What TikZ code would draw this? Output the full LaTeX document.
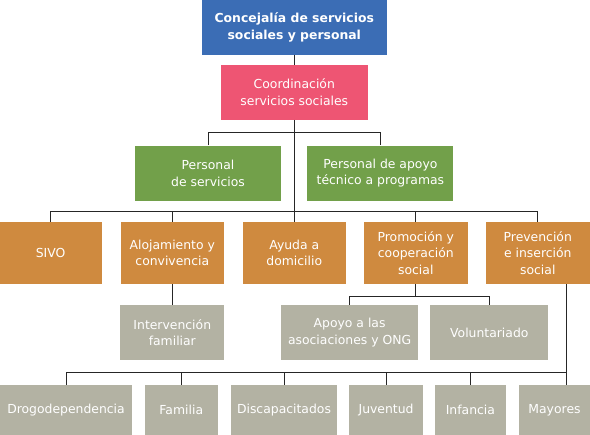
\documentclass[tikz,border=0pt]{standalone}
\usepackage{fontspec}
\setmainfont{DejaVu Sans}
\usetikzlibrary{positioning,calc}
\definecolor{azul}{HTML}{3B6DB5}
\definecolor{rosa}{HTML}{EE5573}
\definecolor{verde}{HTML}{72A04A}
\definecolor{naranja}{HTML}{CF8A3F}
\definecolor{gris}{HTML}{B3B2A3}
\begin{document}
\begin{tikzpicture}[x=1pt,y=1pt,on grid,node distance=60pt,
   box/.style={rectangle,inner sep=0pt,align=center,text=white,
      font=\fontsize{12.4}{16.7}\selectfont},
   topbox/.style={box,fill=azul,minimum width=184.7pt,minimum height=54.7pt,
      font=\fontsize{12.4}{16.7}\selectfont\bfseries},
   pinkbox/.style={box,fill=rosa,minimum width=146.7pt,minimum height=54.7pt},
   greenbox/.style={box,fill=verde,minimum width=146pt,minimum height=55pt},
   orangebox/.style={box,fill=naranja,minimum width=103.5pt,minimum height=61.7pt},
   graybox/.style={box,fill=gris,minimum height=55pt},
   leafbox/.style={box,fill=gris,minimum height=50pt},
   link/.style={line width=0.9pt,black!85}]
   \useasboundingbox (0,0) rectangle (590,-435);
   % top of the chart
   \node[topbox] (conc) at (294.3,-27.4) {Concejalía de servicios\\sociales y personal};
   \node[pinkbox] (coord) [below=65pt of conc] {Coordinación\\servicios sociales};
   \node[greenbox] (pserv) [below left=80.8pt and 86.3pt of coord] {Personal\\de servicios};
   \node[greenbox] (papoyo) [right=172.4pt of pserv] {Personal de apoyo\\técnico a programas};
   % services
   \node[orangebox] (ayuda) [below=160.6pt of coord] {Ayuda a\\domicilio};
   \node[orangebox] (aloj) [left=122pt of ayuda] {Alojamiento y\\convivencia};
   \node[orangebox] (sivo) [left=121.7pt of aloj] {SIVO};
   \node[orangebox] (promo) [right=121.5pt of ayuda] {Promoción y\\cooperación\\social};
   \node[orangebox] (prev) [right=122pt of promo] {Prevención\\e inserción\\social};
   \node[graybox,minimum width=104pt] (interv) [below=79.5pt of aloj] {Intervención\\familiar};
   \node[graybox,minimum width=136.6pt] (apoyo) [below left=79.5pt and 66.2pt of promo] {Apoyo a las\\asociaciones y ONG};
   \node[graybox,minimum width=117.7pt] (volunt) [right=139.7pt of apoyo] {Voluntariado};
   % groups
   \node[leafbox,minimum width=132pt] (drog) at (66,-410) {Drogodependencia};
   \node[leafbox,minimum width=72.5pt] (fam) [right=115.3pt of drog] {Familia};
   \node[leafbox,minimum width=106pt] (disc) [right=102.7pt of fam] {Discapacitados};
   \node[leafbox,minimum width=74pt] (juv) [right=102.1pt of disc] {Juventud};
   \node[leafbox,minimum width=70.7pt] (inf) [right=84.3pt of juv] {Infancia};
   \node[leafbox,minimum width=71pt] (may) [right=84.1pt of inf] {Mayores};
   % connectors
   \coordinate (bus1) at ($(coord.south)+(0,-12.4)$);
   \coordinate (bus2) at ($(coord.south)+(0,-91.6)$);
   \coordinate (bus3) at ($(promo.south)+(0,-12.3)$);
   \coordinate (bus4) at ($(prev.south east)+(-23,0)$);
   \coordinate (bus5) at ($(bus4)+(0,-88.3)$);
   \draw[link] (conc.south) -- (coord.north);
   \draw[link] (coord.south) -- (bus2);
   \draw[link] (pserv.north) |- (bus1) -| (papoyo.north);
   \foreach \n in {sivo,aloj,ayuda,promo,prev}
      \draw[link] (bus2) -| (\n.north);
   \draw[link] (aloj.south) -- (interv.north);
   \draw[link] (promo.south) -- (bus3);
   \draw[link] (apoyo.north) |- (bus3) -| (volunt.north);
   \draw[link] (bus4) -- (bus4 |- may.north);
   \foreach \n in {drog,fam,disc,juv,inf}
      \draw[link] (bus5) -| (\n.north);
\end{tikzpicture}
\end{document}
